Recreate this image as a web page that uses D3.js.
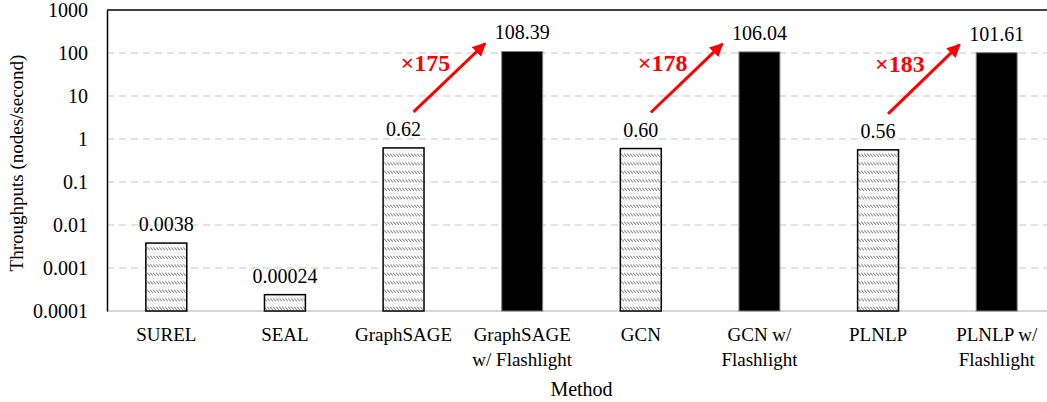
<!DOCTYPE html>
<html>
<head>
<meta charset="utf-8">
<script src="https://cdn.jsdelivr.net/npm/d3@7"></script>
<style>
  body { margin: 0; background: #fff; }
  svg { display: block; }
  svg text { font-family: "Liberation Serif", "Times New Roman", Times, Tinos, "DejaVu Serif", "Noto Serif", serif; }
</style>
</head>
<body>
<svg id="chart" width="1047" height="402"></svg>
<script>
var methods = ["SUREL", "SEAL", "GraphSAGE", "GraphSAGE\nw/ Flashlight", "GCN", "GCN w/\nFlashlight", "PLNLP", "PLNLP w/\nFlashlight"]
var throughputs = [0.0038, 0.00024, 0.62, 108.39, 0.60, 106.04, 0.56, 101.61]
var valueLabels = ["0.0038", "0.00024", "0.62", "108.39", "0.60", "106.04", "0.56", "101.61"]
var flashlight = [false, false, false, true, false, true, false, true]

var yTicks = [0.0001, 0.001, 0.01, 0.1, 1, 10, 100, 1000]
var yTickLabels = ["0.0001", "0.001", "0.01", "0.1", "1", "10", "100", "1000"]

var speedups = [
  {from: 2, to: 3, text: "\u00d7175"},
  {from: 4, to: 5, text: "\u00d7178"},
  {from: 6, to: 7, text: "\u00d7183"}
]

var svg = d3.select("#chart")
var plotLeft = 107, plotTop = 10, plotBottom = 311, plotRight = 1056

var x = d3.scaleBand()
  .domain(d3.range(methods.length))
  .range([plotLeft, plotRight])
  .paddingInner(0.655)
  .paddingOuter(0.3275)

var y = d3.scaleLog()
  .domain([0.0001, 1000])
  .range([plotBottom, plotTop])

// hatch for the plain methods
var defs = svg.append("defs")
var pat = defs.append("pattern")
  .attr("id", "hatch")
  .attr("patternUnits", "userSpaceOnUse")
  .attr("width", 3)
  .attr("height", 8.5)
pat.append("rect").attr("width", 3).attr("height", 8.5).attr("fill", "#fff")
pat.append("line")
  .attr("x1", 0).attr("y1", 0.5).attr("x2", 3).attr("y2", 4)
  .attr("stroke", "#555").attr("stroke-width", 0.9)
pat.append("line")
  .attr("x1", 0).attr("y1", 6.5).attr("x2", 3).attr("y2", 6.5)
  .attr("stroke", "#ececec").attr("stroke-width", 1)

defs.append("marker")
  .attr("id", "arrowhead")
  .attr("viewBox", "0 0 10 10")
  .attr("refX", 9).attr("refY", 5)
  .attr("markerWidth", 4.5).attr("markerHeight", 4.5)
  .attr("markerUnits", "strokeWidth")
  .attr("orient", "auto")
  .append("path")
  .attr("d", "M0,0 L10,5 L0,10 Z")
  .attr("fill", "#ff0000")

// grid lines
svg.append("g")
  .selectAll("line")
  .data(yTicks.slice(1, -1))
  .enter().append("line")
  .attr("x1", plotLeft).attr("x2", 1047)
  .attr("y1", function(d) { return y(d) })
  .attr("y2", function(d) { return y(d) })
  .attr("stroke", "#d9d9d9")
  .attr("stroke-width", 1.5)
  .attr("stroke-dasharray", "7,5")

// top border and baseline
svg.append("line")
  .attr("x1", plotLeft).attr("x2", 1047).attr("y1", y(1000)).attr("y2", y(1000))
  .attr("stroke", "#000").attr("stroke-width", 1.5)
svg.append("line")
  .attr("x1", plotLeft).attr("x2", 1047).attr("y1", y(0.0001)).attr("y2", y(0.0001))
  .attr("stroke", "#c8c8c8").attr("stroke-width", 1.5)

// y axis
var yAxis = d3.axisLeft(y)
  .tickValues(yTicks)
  .tickSize(0)
  .tickPadding(19)
  .tickFormat(function(d, i) { return yTickLabels[i] })

var yg = svg.append("g")
  .attr("transform", "translate(" + plotLeft + ",0)")
  .call(yAxis)
yg.attr("font-size", 20)
yg.select(".domain").attr("stroke", "#000").attr("stroke-width", 1.5)
yg.selectAll("text").attr("fill", "#000")

// x axis
var xAxis = d3.axisBottom(x)
  .tickSize(0)
  .tickFormat("")
var xg = svg.append("g")
  .attr("transform", "translate(0," + plotBottom + ")")
  .call(xAxis)
xg.attr("font-size", 19)
xg.select(".domain").remove()
xg.selectAll(".tick").each(function(d) {
  var lines = methods[d].split("\n")
  var t = d3.select(this).select("text")
    .attr("fill", "#000")
    .attr("y", 0)
    .attr("dy", null)
  lines.forEach(function(line, k) {
    t.append("tspan")
      .attr("x", 0)
      .attr("y", 30 + k * 25)
      .text(line)
  })
})

// bars
svg.append("g")
  .selectAll("rect")
  .data(throughputs)
  .enter().append("rect")
  .attr("x", function(d, i) { return x(i) })
  .attr("width", x.bandwidth())
  .attr("y", function(d) { return y(d) })
  .attr("height", function(d) { return plotBottom - y(d) })
  .attr("fill", function(d, i) { return flashlight[i] ? "#000" : "url(#hatch)" })
  .attr("stroke", function(d, i) { return flashlight[i] ? "#7f7f7f" : "#000" })
  .attr("stroke-width", function(d, i) { return flashlight[i] ? 1 : 1.5 })

// value labels
svg.append("g")
  .selectAll("text")
  .data(throughputs)
  .enter().append("text")
  .attr("x", function(d, i) { return x(i) + x.bandwidth() / 2 })
  .attr("y", function(d) { return y(d) - 12 })
  .attr("text-anchor", "middle")
  .attr("font-size", 20)
  .attr("fill", "#000")
  .text(function(d, i) { return valueLabels[i] })

// speedup arrows
speedups.forEach(function(s) {
  var x1 = x(s.from) + x.bandwidth() / 2 + 10
  var y1 = y(throughputs[s.from]) - 36
  var x2 = x(s.to) + x.bandwidth() / 2 - 37
  var y2 = y(throughputs[s.to]) - 8
  svg.append("line")
    .attr("x1", x1).attr("y1", y1)
    .attr("x2", x2).attr("y2", y2)
    .attr("stroke", "#ff0000")
    .attr("stroke-width", 3)
    .attr("marker-end", "url(#arrowhead)")
  svg.append("text")
    .attr("x", (x1 + x2) / 2 - 24)
    .attr("y", (y1 + y2) / 2 - 7)
    .attr("text-anchor", "middle")
    .attr("font-size", 24)
    .attr("font-weight", "bold")
    .attr("fill", "#ff0000")
    .text(s.text)
})

// axis titles
svg.append("text")
  .attr("x", (plotLeft + plotRight) / 2)
  .attr("y", 396)
  .attr("text-anchor", "middle")
  .attr("font-size", 20)
  .attr("fill", "#000")
  .text("Method")

svg.append("text")
  .attr("transform", "translate(23,163) rotate(-90)")
  .attr("text-anchor", "middle")
  .attr("font-size", 19)
  .attr("fill", "#000")
  .text("Throughputs (nodes/second)")
</script>
</body>
</html>
